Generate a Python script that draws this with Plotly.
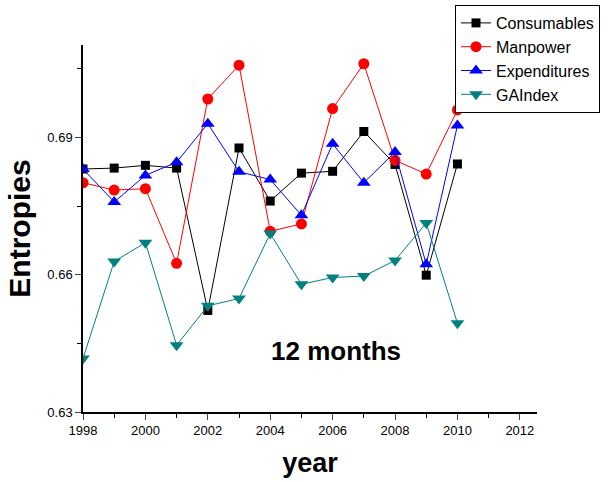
import plotly.graph_objects as go

years = list(range(1998, 2011))
consumables = [0.6831, 0.6833, 0.6839, 0.6833, 0.6522, 0.6877, 0.6761, 0.6822, 0.6826, 0.6913, 0.6841, 0.6599, 0.6842]
manpower = [0.6801, 0.6785, 0.6788, 0.6625, 0.6984, 0.7058, 0.6695, 0.6711, 0.6963, 0.7061, 0.6850, 0.6820, 0.6960]
expenditures = [0.6831, 0.6759, 0.6817, 0.6846, 0.6930, 0.6825, 0.6808, 0.6730, 0.6886, 0.6801, 0.6868, 0.6623, 0.6926]
gaindex = [0.6417, 0.6629, 0.6670, 0.6446, 0.6532, 0.6548, 0.6690, 0.6579, 0.6594, 0.6597, 0.6631, 0.6713, 0.6494]

x_ticks = [1998, 2000, 2002, 2004, 2006, 2008, 2010, 2012]
y_ticks = [0.63, 0.66, 0.69]

series = [
    ("Consumables", consumables, "#000000", "square", 9),
    ("Manpower", manpower, "#ff0000", "circle", 11),
    ("Expenditures", expenditures, "#0000ff", "triangle-up", 12),
    ("GAIndex", gaindex, "#008080", "triangle-down", 12),
]

fig = go.Figure()
for name, vals, col, sym, sz in series:
    fig.add_trace(go.Scatter(
        x=years, y=vals, name=name, mode="lines+markers",
        line=dict(color=col, width=1),
        marker=dict(symbol=sym, size=sz, color=col, line=dict(width=0)),
    ))

fig.add_annotation(x=2006.1, y=0.6433, text="<b>12 months</b>", showarrow=False,
                   font=dict(size=26, color="black", family="Liberation Sans, Arial"))

fig.update_layout(
    width=609, height=482,
    margin=dict(l=83, r=72, t=45, b=70, autoexpand=False),
    paper_bgcolor="white", plot_bgcolor="white",
    font=dict(family="Liberation Sans, Arial", color="black"),
    showlegend=True,
    legend=dict(x=(455 - 83) / 454, y=1 + (45 - 5) / 367, xref="paper", yref="paper",
                xanchor="left", yanchor="top",
                bordercolor="black", borderwidth=1, bgcolor="white",
                font=dict(size=16), tracegroupgap=0, itemwidth=30),
    xaxis=dict(
        range=[1998, 2012.55], tickvals=x_ticks, ticks="outside", ticklen=6, tickwidth=1,
        showline=True, linecolor="black", linewidth=1.5, showgrid=False, zeroline=False,
        tickfont=dict(size=13), automargin=False,
        minor=dict(tickvals=list(range(1999, 2013, 2)), ticks="outside", ticklen=4, tickcolor="black"),
        title=dict(text="<b>year</b>", font=dict(size=27), standoff=16),
    ),
    yaxis=dict(
        range=[0.63, 0.7102], tickvals=y_ticks, tickformat=".2f", ticks="outside", ticklen=6, tickwidth=1,
        showline=True, linecolor="black", linewidth=1.5, showgrid=False, zeroline=False,
        tickfont=dict(size=13), automargin=False,
        minor=dict(tickvals=[0.645, 0.675, 0.705], ticks="outside", ticklen=4, tickcolor="black"),
        title=dict(text="<b>Entropies</b>", font=dict(size=30), standoff=8),
    ),
)

fig.write_html("out.html")
